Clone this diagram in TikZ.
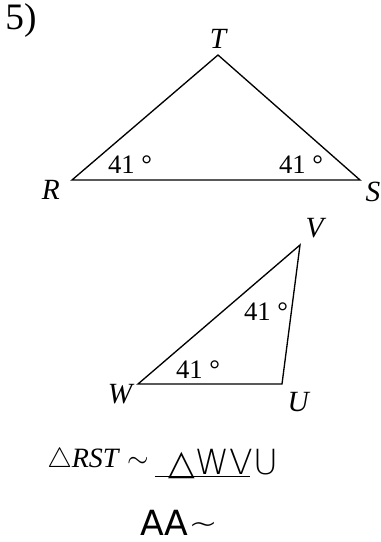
\documentclass[tikz,border=0pt]{standalone}
\usepackage{fontspec}
\setmainfont{Liberation Serif}
\newfontfamily\handfont{DejaVu Sans ExtraLight}
\newfontfamily\handsym{DejaVu Sans}
\usetikzlibrary{positioning}
\tikzset{
  tri/.style={line width=1pt, draw=black, line join=miter},
  vlabel/.style={font=\itshape\fontsize{22}{26}\selectfont, inner sep=0pt},
  angl/.style={font=\fontsize{20}{24}\selectfont, inner sep=0pt},
  probnum/.style={font=\fontsize{28}{32}\selectfont, inner sep=0pt},
  printed/.style={font=\fontsize{21}{25}\selectfont, inner sep=0pt},
  hand/.style={font=\handfont\fontsize{26}{30}\selectfont, inner sep=0pt},
  blank/.style={line width=.7pt, draw=black}
}
\begin{document}
\begin{tikzpicture}[x=.75pt, y=-.75pt]
\path[use as bounding box] (0,0) rectangle (380,542);

\node[probnum] (num) at (21,21) {5)};

% first triangle
\coordinate (R) at (72,180);
\coordinate (S) at (360,180);
\coordinate (T) at (218,55);
\draw[tri] (R) -- (S) -- (T) -- cycle;
\node[vlabel, above=5pt of T] (Tl) {T};
\node[vlabel, below left=0pt and 9pt of R] (Rl) {R};
\node[vlabel, below right=1pt and 4pt of S] (Sl) {S};
\node[angl] (angR) at (130,165) {41 °};
\node[angl] (angS) at (301,165) {41 °};

% second triangle
\coordinate (W) at (138,384);
\coordinate (U) at (282,384);
\coordinate (V) at (300,245);
\draw[tri] (W) -- (U) -- (V) -- cycle;
\node[vlabel, above right=5pt and 4pt of V] (Vl) {V};
\node[vlabel, below left=0pt and 4pt of W] (Wl) {W};
\node[vlabel, below right=6pt and 4pt of U] (Ul) {U};
\node[angl] (angV) at (266,312) {41 °};
\node[angl] (angW) at (198,370) {41 °};

% answer line
\node[printed, anchor=base west] (sim) at (47,467) {$\triangle$\textit{RST} $\sim$};
\coordinate (blankL) at (155,476);
\coordinate (blankR) at (250,476);
\draw[blank] (blankL) -- (blankR);
\node[hand, anchor=base west] (ans) at (168,474) {{\handsym △}WVU};
\node[hand, anchor=base west] (why) at (140,535) {{\handsym AA}\textasciitilde};
\end{tikzpicture}
\end{document}
